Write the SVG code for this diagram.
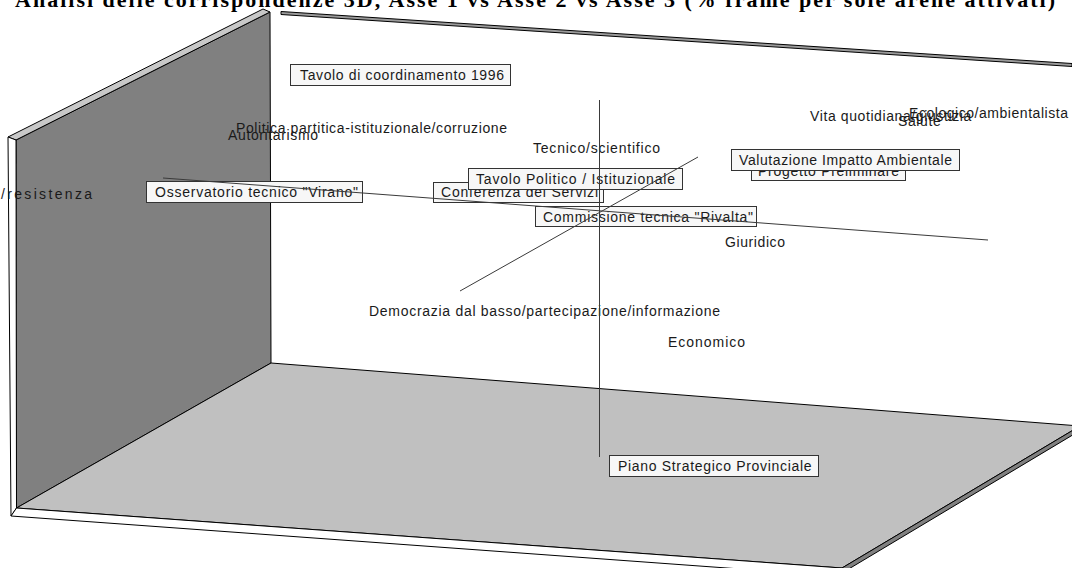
<svg xmlns="http://www.w3.org/2000/svg" width="1072" height="568" viewBox="0 0 1072 568">
  <style>
    .lbl { font-family: "Liberation Sans", Arial, sans-serif; font-size: 14px; fill: #1a1a1a; }
    .box { fill: #f7f7f7; stroke: #333; stroke-width: 1; }
    .edge { stroke: #000; stroke-width: 1; stroke-linejoin: round; }
    .axis { stroke: #3a3a3a; stroke-width: 1; fill: none; }
    .title { font-family: "Liberation Serif", "Times New Roman", serif; font-size: 22px; font-weight: bold; fill: #000; }
  </style>
  <rect width="1072" height="568" fill="#fff"/>

  <!-- title -->
  <text class="title" x="15" y="7" textLength="1040" lengthAdjust="spacing">Analisi delle corrispondenze 3D, Asse 1 vs Asse 2 vs Asse 3 (% frame per sole arene attivati)</text>

  <!-- 3D box: side wall, back wall edge, floor slab -->
  <g id="scene">
    <!-- back wall top edge -->
    <polygon points="281,11.5 1072,63.5 1072,66.5 281,14.5" fill="#9a9a9a" class="edge" stroke-width="0.7"/>
    <!-- side wall -->
    <polygon points="16,140 270,12 271,363 16.5,508" fill="#808080" class="edge"/>
    <polygon points="8,137 263,9 270,12 16,140" fill="#c8c8c8" class="edge" stroke-width="0.8"/>
    <polygon points="8,137 16,140 16.5,508 11,516" fill="#fff" class="edge"/>
    <!-- floor -->
    <polygon points="271,363 1080,426 842,568 16.5,508" fill="#c0c0c0" class="edge"/>
    <polygon points="16.5,508 842,568 837,576 11,516" fill="#fff" class="edge"/>
    <polygon points="1080,426 842,568 837,576 1076,433" fill="#808080" class="edge"/>
  </g>

  <!-- plain category labels -->
  <g id="n-resistenza"><text class="lbl" x="1" y="199" textLength="91">/resistenza</text></g>
  <g id="n-autoritarismo"><text class="lbl" x="228" y="139.5" textLength="90">Autoritarismo</text></g>
  <g id="n-politica"><text class="lbl" x="236" y="133" textLength="271">Politica partitica-istituzionale/corruzione</text></g>
  <g id="n-tecnico"><text class="lbl" x="533" y="152.5" textLength="127">Tecnico/scientifico</text></g>
  <g id="n-vita"><text class="lbl" x="810" y="121" letter-spacing="0.6">Vita quotidiana/giustizia</text></g>
  <g id="n-ecologico"><text class="lbl" x="909" y="117.5" textLength="159">Ecologico/ambientalista</text></g>
  <g id="n-salute"><text class="lbl" x="898" y="126" letter-spacing="0.6">Salute</text></g>
  <g id="n-giuridico"><text class="lbl" x="725" y="247" textLength="60">Giuridico</text></g>
  <g id="n-democrazia"><text class="lbl" x="369" y="315.5" textLength="351">Democrazia dal basso/partecipazione/informazione</text></g>
  <g id="n-economico"><text class="lbl" x="668" y="347" textLength="77">Economico</text></g>

  <!-- boxed arena labels -->
  <g id="n-tavolo-1996">
    <rect class="box" x="290.5" y="64.5" width="220" height="21"/>
    <text class="lbl" x="300" y="80" textLength="204">Tavolo di coordinamento 1996</text>
  </g>
  <g id="n-osservatorio">
    <rect class="box" x="146.5" y="181.5" width="216" height="21"/>
    <text class="lbl" x="155" y="197" textLength="203">Osservatorio tecnico "Virano"</text>
  </g>
  <g id="n-conferenza">
    <rect class="box" x="433.5" y="182.5" width="170" height="20"/>
    <text class="lbl" x="441" y="197" textLength="157">Conferenza dei Servizi</text>
  </g>
  <g id="n-tavolo-politico">
    <rect class="box" x="468.5" y="168.5" width="214" height="21"/>
    <text class="lbl" x="476" y="184" textLength="199">Tavolo Politico / Istituzionale</text>
  </g>
  <g id="n-commissione">
    <rect class="box" x="535.5" y="206.5" width="221" height="20"/>
    <text class="lbl" x="543" y="221.5" textLength="210">Commissione tecnica "Rivalta"</text>
  </g>
  <g id="n-progetto">
    <rect class="box" x="751.5" y="160.5" width="154" height="20"/>
    <text class="lbl" x="758" y="175.5" textLength="141">Progetto Preliminare</text>
  </g>
  <g id="n-via">
    <rect class="box" x="731.5" y="149.5" width="228" height="21"/>
    <text class="lbl" x="739" y="164.5" textLength="213">Valutazione Impatto Ambientale</text>
  </g>
  <g id="n-piano">
    <rect class="box" x="609.5" y="455.5" width="209" height="21"/>
    <text class="lbl" x="618" y="470.5" textLength="193.5">Piano Strategico Provinciale</text>
  </g>

  <!-- axes -->
  <g id="connectors">
    <line class="axis" x1="163" y1="178" x2="988" y2="240"/>
    <line class="axis" x1="460" y1="291" x2="698" y2="157"/>
    <line class="axis" x1="599.5" y1="100" x2="599.5" y2="457"/>
  </g>
</svg>
